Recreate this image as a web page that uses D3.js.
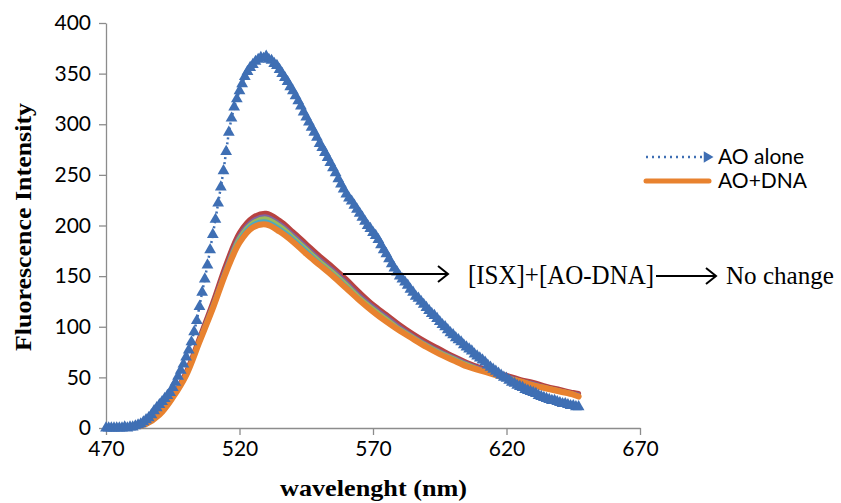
<!DOCTYPE html>
<html>
<head>
<meta charset="utf-8">
<script src="https://cdn.jsdelivr.net/npm/d3@7"></script>
<style>
  body { margin: 0; background: #fff; }
  svg { display: block; }
</style>
</head>
<body>
<svg id="chart" width="841" height="503"></svg>
<script>
// AO alone, one reading per nm (470..647)
var wlFine = d3.range(470, 648);
var aoAlone = [
  0, 0, 0, 0, 0, 0, 0, 1, 0, 1,
  1, 2, 3, 4, 6, 8, 10, 13, 17, 20,
  23, 26, 29, 32, 35, 40, 45, 51, 57, 63,
  70, 77, 85, 95, 106, 120, 134, 147, 161, 176,
  191, 206, 222, 238, 254, 273, 292, 306, 317, 325,
  333, 340, 347, 352, 356, 359, 362, 364, 366, 365,
  367, 364, 363, 360, 358, 354, 350, 346, 342, 337,
  333, 328, 323, 318, 312, 307, 302, 297, 292, 287,
  281, 277, 272, 267, 262, 257, 252, 246, 241, 236,
  231, 227, 224, 220, 216, 212, 208, 204, 200, 197,
  193, 190, 186, 181, 176, 172, 167, 162, 158, 154,
  150, 147, 144, 141, 137, 134, 130, 128, 125, 122,
  119, 116, 113, 111, 108, 105, 102, 100, 97, 94,
  92, 89, 87, 85, 82, 80, 78, 76, 73, 71,
  69, 67, 65, 62, 60, 58, 56, 54, 52, 50,
  49, 47, 45, 44, 42, 41, 40, 38, 37, 36,
  35, 34, 32, 31, 30, 29, 28, 27, 27, 26,
  25, 24, 24, 23, 22, 22, 21, 21
];

// AO+DNA and the ISX additions, every 5 nm
var wlCoarse = [470, 475, 480, 485, 490, 495, 500, 505, 510, 515, 520, 525, 530, 535, 540, 545, 550, 555, 560,
  565, 570, 575, 580, 585, 590, 595, 600, 605, 610, 615, 620, 625, 630, 635, 640, 645, 647];
var isxRed = [0, 0, 1, 4, 14, 31, 55, 89, 124, 162, 193, 208, 212, 205, 194, 182, 170, 159, 147, 134,
  122, 112, 102, 93, 85, 78, 71, 65, 60, 56, 52, 48, 45, 41, 38, 35, 34];
var isxPurple = [0, 0, 1, 4, 14, 31, 54, 88, 122, 159, 190, 205, 209, 202, 191, 179, 167, 156, 144, 131,
  120, 110, 100, 91, 83, 76, 70, 64, 59, 55, 51, 47, 44, 40, 37, 34, 33];
var isxGreen = [0, 0, 1, 4, 13, 30, 53, 87, 121, 157, 188, 203, 207, 200, 189, 177, 165, 154, 142, 129,
  118, 108, 98, 90, 82, 75, 69, 63, 58, 54, 50, 47, 43, 40, 37, 34, 32];
var isxTeal = [0, 0, 1, 4, 13, 30, 53, 86, 120, 156, 186, 201, 204, 197, 187, 175, 163, 152, 140, 127,
  116, 106, 97, 89, 81, 74, 68, 62, 57, 53, 49, 46, 42, 39, 36, 33, 32];
var aoDna = [0, 0, 1, 4, 13, 30, 52, 85, 118, 154, 183, 198, 201, 194, 184, 172, 161, 150, 138, 126,
  115, 105, 96, 88, 80, 73, 67, 61, 57, 53, 49, 46, 42, 39, 36, 33, 31];

var xTicks = [470, 520, 570, 620, 670];
var yTicks = [0, 50, 100, 150, 200, 250, 300, 350, 400];
var legendLabels = ['AO alone', 'AO+DNA'];

var BLUE = '#3f6fb4';
var ORANGE = '#e8822f';
var SERIF = '"Liberation Serif", "Times New Roman", serif';
var SANS = 'Lato, "Open Sans", sans-serif';

var svg = d3.select('#chart');
var x = d3.scaleLinear().domain([470, 670]).range([106, 640]);
var y = d3.scaleLinear().domain([0, 400]).range([428, 23]);

// axes
var gx = svg.append('g').attr('transform', 'translate(0,' + y(0) + ')')
    .call(d3.axisBottom(x).tickValues(xTicks).tickSize(7).tickPadding(6).tickSizeOuter(0));
var gy = svg.append('g').attr('transform', 'translate(' + x(470) + ',0)')
    .call(d3.axisLeft(y).tickValues(yTicks).tickSize(7).tickPadding(8).tickSizeOuter(0));
[gx, gy].forEach(function (g) {
    g.select('.domain').attr('stroke', '#8c8c8c').attr('stroke-width', 1.3);
    g.selectAll('.tick line').attr('stroke', '#8c8c8c').attr('stroke-width', 1.3);
    g.selectAll('.tick text').attr('fill', '#000')
        .style('font-family', SANS).style('font-size', '21px');
});

// DNA curves, bottom to top
var line = d3.line().curve(d3.curveCatmullRom.alpha(0.5))
    .x(function (d) { return x(d[0]); })
    .y(function (d) { return y(d[1]); });
var dnaSeries = [
    { vals: isxRed, color: '#b8423f', w: 5 },
    { vals: isxPurple, color: '#7f64a2', w: 4 },
    { vals: isxGreen, color: '#9bbb59', w: 4 },
    { vals: isxTeal, color: '#4aa8c4', w: 4 },
    { vals: aoDna, color: ORANGE, w: 6 }
];
dnaSeries.forEach(function (s) {
    svg.append('path')
        .datum(d3.zip(wlCoarse, s.vals))
        .attr('fill', 'none')
        .attr('stroke', s.color)
        .attr('stroke-width', s.w)
        .attr('stroke-linejoin', 'round')
        .attr('stroke-linecap', 'round')
        .attr('d', line);
});

// AO alone: dotted line with triangle markers
var blueData = d3.zip(wlFine, aoAlone);
svg.append('path')
    .datum(blueData)
    .attr('fill', 'none')
    .attr('stroke', BLUE)
    .attr('stroke-width', 2.5)
    .attr('stroke-dasharray', '2,3')
    .attr('d', d3.line().x(function (d) { return x(d[0]); }).y(function (d) { return y(d[1]); }));
var tri = d3.symbol().type(d3.symbolTriangle).size(60);
svg.append('g').selectAll('path')
    .data(blueData)
    .join('path')
    .attr('transform', function (d) { return 'translate(' + x(d[0]) + ',' + y(d[1]) + ')'; })
    .attr('fill', BLUE)
    .attr('d', tri);

// legend
var lg = svg.append('g');
lg.append('line')
    .attr('x1', 646).attr('x2', 703).attr('y1', 157).attr('y2', 157)
    .attr('stroke', BLUE).attr('stroke-width', 2.5).attr('stroke-dasharray', '2,4');
lg.append('path')
    .attr('transform', 'translate(707,157) rotate(90)')
    .attr('fill', BLUE)
    .attr('d', d3.symbol().type(d3.symbolTriangle).size(55));
lg.append('line')
    .attr('x1', 646).attr('x2', 709).attr('y1', 181).attr('y2', 181)
    .attr('stroke', ORANGE).attr('stroke-width', 5).attr('stroke-linecap', 'round');
lg.selectAll('text')
    .data(legendLabels)
    .join('text')
    .attr('x', 718)
    .attr('y', function (d, i) { return 157 + i * 24; })
    .attr('dy', '0.35em')
    .style('font-family', SANS)
    .style('font-size', '21px')
    .text(function (d) { return d; });

// annotation
function arrow(x1, x2, yy) {
    svg.append('line').attr('x1', x1).attr('x2', x2).attr('y1', yy).attr('y2', yy)
        .attr('stroke', '#000').attr('stroke-width', 2);
    svg.append('path')
        .attr('d', 'M' + (x2 - 10) + ',' + (yy - 8) + 'L' + x2 + ',' + yy + 'L' + (x2 - 10) + ',' + (yy + 8))
        .attr('fill', 'none').attr('stroke', '#000').attr('stroke-width', 2);
}
arrow(343, 448, 274);
arrow(656, 716, 276);
svg.append('text')
    .attr('x', 468).attr('y', 284)
    .attr('textLength', 186).attr('lengthAdjust', 'spacingAndGlyphs')
    .style('font-family', SERIF)
    .style('font-size', '27px')
    .text('[ISX]+[AO-DNA]');
svg.append('text')
    .attr('x', 726).attr('y', 284)
    .attr('textLength', 108).attr('lengthAdjust', 'spacingAndGlyphs')
    .style('font-family', SERIF)
    .style('font-size', '26px')
    .text('No change');

// axis titles
svg.append('text')
    .attr('x', 280).attr('y', 496)
    .attr('textLength', 187).attr('lengthAdjust', 'spacingAndGlyphs')
    .style('font-family', SERIF)
    .style('font-weight', 'bold')
    .style('font-size', '23px')
    .text('wavelenght (nm)');
svg.append('text')
    .attr('transform', 'translate(31,351) rotate(-90)')
    .attr('textLength', 248).attr('lengthAdjust', 'spacingAndGlyphs')
    .style('font-family', SERIF)
    .style('font-weight', 'bold')
    .style('font-size', '24px')
    .text('Fluorescence Intensity');
</script>
</body>
</html>
